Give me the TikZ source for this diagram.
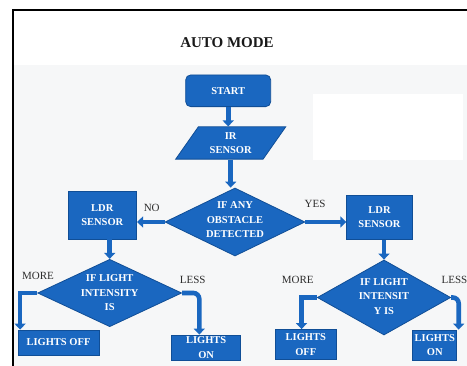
\documentclass[tikz,border=0pt]{standalone}
\usepackage{fontspec}
\setmainfont{Liberation Serif}
\usetikzlibrary{shapes.geometric,arrows.meta}
\definecolor{fcblue}{RGB}{26,103,192}
\definecolor{fcedge}{RGB}{16,78,150}
\definecolor{bggray}{RGB}{246,247,248}
\definecolor{lblgray}{RGB}{45,45,45}
\definecolor{titleink}{RGB}{25,25,25}
\begin{document}
\begin{tikzpicture}[x=1pt,y=-1pt,
  box/.style={draw=fcedge,fill=fcblue,line width=0.8pt,text=white,
    font=\bfseries\fontsize{10.5}{14.5}\selectfont,align=center,inner sep=0pt},
  dia/.style={diamond,draw=fcedge,fill=fcblue,line width=0.8pt,inner sep=0pt},
  dtext/.style={text=white,font=\bfseries\fontsize{10.5}{14.5}\selectfont,align=center,inner sep=0pt},
  conn/.style={draw=fcblue,line width=4.6pt,-{Triangle[width=11pt,length=6pt]}},
  lbl/.style={text=lblgray,font=\fontsize{11}{12}\selectfont,inner sep=0pt}
]
\useasboundingbox (0,0) rectangle (467,366);
% background
\fill[bggray] (14,65) rectangle (467,366);
\fill[white] (313,94) rectangle (463,160);
% frame
\draw[line width=2pt,line cap=rect] (467,10) -- (13,10) -- (13,367);
% title
\node[text=titleink,font=\bfseries\fontsize{15}{18}\selectfont,inner sep=0pt] (title) at (227,43) {AUTO MODE};
% nodes
\node[box,rounded corners=5pt,minimum width=85pt,minimum height=31.7pt] (start) at (228.2,90.8) {START};
\node[trapezium,trapezium left angle=43.5,trapezium right angle=136.5,trapezium stretches body,
      draw=fcedge,fill=fcblue,line width=0.8pt,text=white,font=\bfseries\fontsize{10.5}{14.5}\selectfont,
      align=center,inner sep=0pt,minimum width=110pt,minimum height=32.3pt] (ir) at (230.7,143) {IR\\SENSOR};
\node[dia,minimum width=140pt,minimum height=68pt] (d1) at (235,222) {};
\node[dtext] (d1t) at ([yshift=2pt]d1.center) {IF ANY\\OBSTACLE\\DETECTED};
\node[box,minimum width=68.7pt,minimum height=48pt] (ldrL) at (102.3,215) {LDR\\SENSOR};
\node[box,minimum width=65.6pt,minimum height=44.3pt] (ldrR) at (379.5,217.2) {LDR\\SENSOR};
\node[dia,minimum width=144pt,minimum height=67.4pt] (d2) at (109.7,293) {};
\node[dtext] (d2t) at (d2.center) {IF LIGHT\\INTENSITY\\IS};
\node[dia,minimum width=133.4pt,minimum height=75pt] (d3) at (384,297.5) {};
\node[dtext] (d3t) at ([yshift=1pt]d3.center) {IF LIGHT\\INTENSIT\\Y IS};
\node[box,minimum width=81pt,minimum height=25pt] (offL) at (58.5,342.5) {LIGHTS OFF};
\node[box,minimum width=69pt,minimum height=25pt] (onL) at (206.2,347.5) {LIGHTS\\ON};
\node[box,minimum width=61.7pt,minimum height=30pt] (offR) at (305.8,344.5) {LIGHTS\\OFF};
\node[box,minimum width=44pt,minimum height=30pt] (onR) at (434.8,345) {LIGHTS\\ON};
% connectors
\draw[conn] (start.south) -- (start.south |- ir.north);
\draw[conn] (ir.south) -- (ir.south |- d1.north);
\draw[conn] (d1.west) -- (d1.west -| ldrL.east);
\draw[conn] (d1.east) -- (d1.east -| ldrR.west);
\draw[conn] (ldrL.south -| d2.north) -- (d2.north);
\draw[conn] (ldrR.south -| d3.north) -- (d3.north);
\draw[conn] (d2.west) -| ([xshift=2.5pt]offL.north west);
\draw[conn,rounded corners=6pt] (d2.east) -| ([xshift=28pt]onL.north west);
\draw[conn] (d3.west) -| ([xshift=27pt]offR.north west);
\draw[conn,rounded corners=6pt] (d3.east) -| ([xshift=1.5pt]onR.north east);
% labels
\node[lbl] (no) at (151.7,208) {NO};
\node[lbl] (yes) at (315,204) {YES};
\node[lbl] (moreL) at (38,276) {MORE};
\node[lbl] (lessL) at (192.7,279.5) {LESS};
\node[lbl] (moreR) at (297.7,280) {MORE};
\node[lbl] (lessR) at (454.5,280) {LESS};
\end{tikzpicture}
\end{document}
